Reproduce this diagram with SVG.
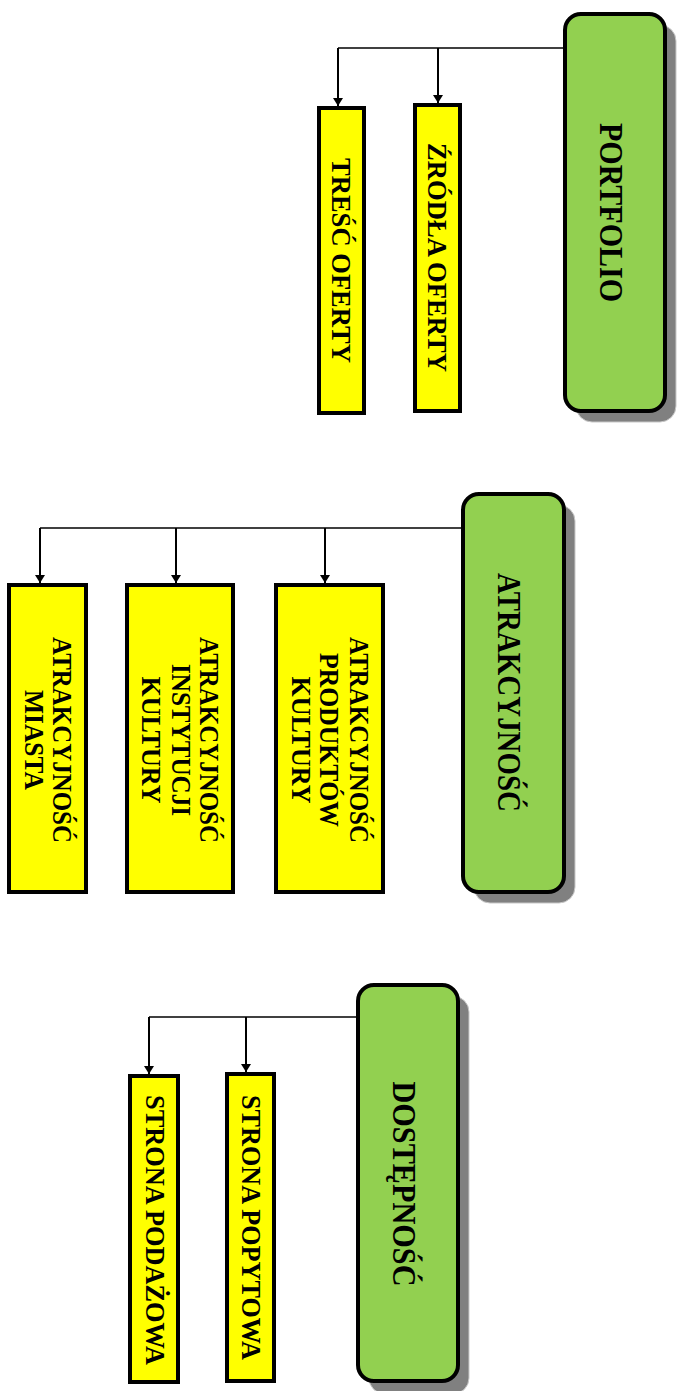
<svg xmlns="http://www.w3.org/2000/svg" width="680" height="1391" viewBox="0 0 680 1391">
<style>
.bg{fill:#ffffff}
.green{fill:#92D050;stroke:#000;stroke-width:4}
.shadow{fill:#808080;stroke:#c8c8c8;stroke-width:1}
.yellow{fill:#FFFF00;stroke:#000;stroke-width:4}
.h{stroke:#000;stroke-width:1.3;fill:none}
.v{stroke:#000;stroke-width:2;fill:none;marker-end:url(#arr)}
text{font-family:"Liberation Serif","Times New Roman",serif;font-weight:bold;fill:#000;text-anchor:middle}
.big{font-size:33px}
.small{font-size:28px}
</style>
<defs>
<marker id="arr" markerUnits="userSpaceOnUse" viewBox="0 0 8 10" markerWidth="8" markerHeight="10" refX="8" refY="5" orient="auto">
<path d="M0,0 L8,5 L0,10 z" fill="#000"/>
</marker>
</defs>
<rect class="bg" x="0" y="0" width="680" height="1391"/>

<g id="connectors">
<line class="h" x1="563" y1="48" x2="338" y2="48"/>
<path class="v" d="M338,48 V106"/>
<path class="v" d="M438,48 V103"/>
<line class="h" x1="461" y1="528" x2="40" y2="528"/>
<path class="v" d="M40,528 V583"/>
<path class="v" d="M176,528 V583"/>
<path class="v" d="M325,528 V583"/>
<line class="h" x1="356" y1="1017" x2="149" y2="1017"/>
<path class="v" d="M149,1017 V1074"/>
<path class="v" d="M246,1017 V1072"/>
</g>

<g id="portfolio">
<rect class="shadow" x="576" y="25" width="100" height="397" rx="16"/>
<rect class="green" x="565" y="14" width="100" height="397" rx="16"/>
<text class="big" transform="translate(600,212.5) rotate(90)" textLength="179" lengthAdjust="spacingAndGlyphs">PORTFOLIO</text>
</g>
<g id="zrodla-oferty">
<rect class="yellow" x="415" y="105" width="45" height="306"/>
<text class="small" transform="translate(428.3,257.5) rotate(90)" textLength="229" lengthAdjust="spacingAndGlyphs">ŹRÓDŁA OFERTY</text>
</g>
<g id="tresc-oferty">
<rect class="yellow" x="319" y="108" width="45" height="305"/>
<text class="small" transform="translate(332.3,260.5) rotate(90)" textLength="205" lengthAdjust="spacingAndGlyphs">TREŚĆ OFERTY</text>
</g>

<g id="atrakcyjnosc">
<rect class="shadow" x="474" y="505" width="101" height="398" rx="16"/>
<rect class="green" x="463" y="494" width="101" height="398" rx="16"/>
<text class="big" style="font-size:34px" transform="translate(498.3,692.5) rotate(90)" textLength="239" lengthAdjust="spacingAndGlyphs">ATRAKCYJNOŚĆ</text>
</g>
<g id="atrakcyjnosc-miasta">
<rect class="yellow" x="9" y="585" width="77" height="307"/>
<text class="small" transform="translate(53.3,740) rotate(90)"><tspan x="0" y="0" textLength="206" lengthAdjust="spacingAndGlyphs">ATRAKCYJNOŚĆ</tspan><tspan x="0" y="28.3" textLength="100" lengthAdjust="spacingAndGlyphs">MIASTA</tspan></text>
</g>
<g id="atrakcyjnosc-instytucji">
<rect class="yellow" x="127" y="585" width="106" height="307"/>
<text class="small" transform="translate(200,740) rotate(90)"><tspan x="0" y="0" textLength="206" lengthAdjust="spacingAndGlyphs">ATRAKCYJNOŚĆ</tspan><tspan x="0" y="28.3" textLength="152" lengthAdjust="spacingAndGlyphs">INSTYTUCJI</tspan><tspan x="0" y="58.3" textLength="127" lengthAdjust="spacingAndGlyphs">KULTURY</tspan></text>
</g>
<g id="atrakcyjnosc-produktow">
<rect class="yellow" x="276" y="585" width="107" height="307"/>
<text class="small" transform="translate(350,740) rotate(90)"><tspan x="0" y="0" textLength="206" lengthAdjust="spacingAndGlyphs">ATRAKCYJNOŚĆ</tspan><tspan x="0" y="30" textLength="174" lengthAdjust="spacingAndGlyphs">PRODUKTÓW</tspan><tspan x="0" y="58.3" textLength="127" lengthAdjust="spacingAndGlyphs">KULTURY</tspan></text>
</g>

<g id="dostepnosc">
<rect class="shadow" x="369" y="996" width="100" height="398" rx="16"/>
<rect class="green" x="358" y="985" width="100" height="396" rx="16"/>
<text class="big" transform="translate(393.3,1184) rotate(90)" textLength="205" lengthAdjust="spacingAndGlyphs">DOSTĘPNOŚĆ</text>
</g>
<g id="strona-popytowa">
<rect class="yellow" x="227" y="1074" width="47" height="307"/>
<text class="small" transform="translate(241.7,1227.5) rotate(90)" textLength="265" lengthAdjust="spacingAndGlyphs">STRONA POPYTOWA</text>
</g>
<g id="strona-podazowa">
<rect class="yellow" x="130" y="1076" width="48" height="306"/>
<text class="small" transform="translate(146,1230) rotate(90)" textLength="270" lengthAdjust="spacingAndGlyphs">STRONA PODAŻOWA</text>
</g>
</svg>
